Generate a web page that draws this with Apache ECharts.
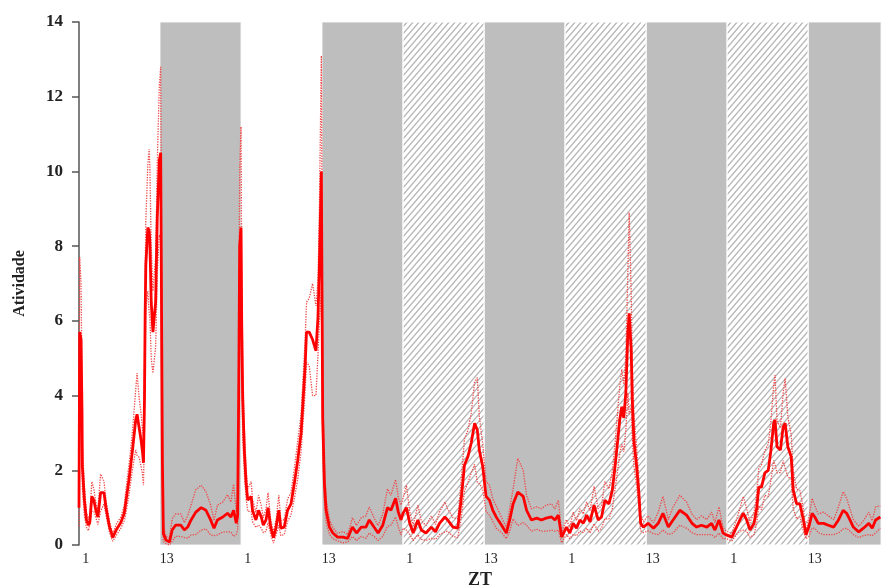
<!DOCTYPE html>
<html>
<head>
<meta charset="utf-8">
<script src="https://cdn.jsdelivr.net/npm/echarts@6/dist/echarts.min.js"></script>
<style>html,body{margin:0;padding:0;background:#fff}#chart{width:881px;height:585px}</style>
</head>
<body>
<div id="chart"></div>
<script>
// time (hours from ZT0 of day 1)
const horas = [0.0,0.1,0.3,0.45,0.5,0.8,1.1,1.4,1.6,1.9,2.2,2.5,2.8,3.2,3.7,4.0,4.5,5.0,5.2,5.5,6.2,6.7,6.9,7.4,7.9,8.4,8.6,8.9,9.2,9.4,9.55,9.7,9.8,9.9,10.2,10.4,10.5,10.7,10.95,11.35,11.6,11.9,12.1,12.35,12.5,
12.9,13.4,13.8,14.3,15.1,15.6,16.1,16.6,17.3,18.1,18.8,19.5,20.0,20.5,21.3,22.0,22.5,22.9,23.3,23.5,23.65,23.8,24.0,24.1,24.25,24.5,24.75,25.0,
25.5,25.7,26.2,26.6,27.0,27.3,27.7,28.0,28.4,28.8,29.2,29.6,29.9,30.4,30.9,31.4,31.9,32.4,32.9,33.2,33.5,33.7,34.1,34.6,35.1,35.4,35.6,35.9,36.1,36.35,36.6,37.1,
37.6,38.3,39.1,39.8,40.5,41.1,41.8,42.5,43.0,43.7,44.3,45.0,45.7,46.2,46.9,47.3,
47.7,48.0,48.5,49.0,49.5,50.2,50.7,51.4,52.2,52.8,53.4,54.2,54.6,55.4,56.1,56.6,57.1,57.6,58.1,58.6,59.0,59.3,59.8,
60.3,60.8,61.3,61.8,62.6,63.3,63.8,64.3,65.0,65.8,66.3,67.0,67.8,68.5,69.2,70.0,70.5,71.0,71.5,
72.2,72.7,73.2,73.7,74.2,74.7,75.2,75.7,76.3,76.9,77.4,77.9,78.5,79.0,79.4,79.8,80.1,80.4,80.7,81.0,81.3,81.5,81.8,81.95,82.2,82.6,82.9,83.2,
83.6,84.3,85.1,85.8,86.5,87.3,88.0,89.0,90.0,90.8,91.5,92.2,93.0,93.7,94.2,94.8,95.4,
95.9,96.7,97.4,97.9,98.4,98.9,99.4,100.0,100.4,100.7,101.1,101.6,102.1,102.5,102.9,103.1,103.4,103.9,104.3,104.6,105.0,105.5,105.8,106.3,106.8,107.3,107.7,
108.1,108.6,109.0,109.5,110.3,111.0,111.8,112.5,113.2,113.7,114.2,114.7,115.5,116.2,117.0,117.5,118.0,118.7];

// mean activity
const atividade = [1.0,5.7,5.5,3.5,2.1,1.2,0.67,0.53,0.6,1.3,1.2,0.93,0.75,1.4,1.4,1.0,0.5,0.2,0.17,0.4,0.6,0.85,1.1,1.74,2.5,3.35,3.5,3.15,2.8,2.5,2.2,3.9,6.2,7.5,8.5,8.4,8.1,6.5,5.7,6.5,8.8,10.3,10.5,2.3,0.3,
0.13,0.08,0.4,0.53,0.53,0.4,0.48,0.67,0.88,1.0,0.93,0.67,0.45,0.67,0.75,0.85,0.75,0.93,0.58,0.8,3.9,8.0,8.5,6.0,3.9,2.5,1.65,1.2,
1.3,0.93,0.67,0.93,0.75,0.53,0.67,1.0,0.48,0.2,0.48,0.93,0.45,0.48,0.93,1.1,1.65,2.27,3.0,3.9,4.8,5.7,5.7,5.5,5.2,6.1,7.4,10.0,3.4,1.65,0.93,0.48,
0.32,0.21,0.21,0.18,0.48,0.32,0.48,0.48,0.67,0.48,0.32,0.53,1.0,0.93,1.25,0.88,
0.67,0.85,1.0,0.58,0.32,0.67,0.4,0.32,0.48,0.35,0.58,0.75,0.67,0.48,0.45,1.2,2.14,2.36,2.73,3.26,3.08,2.54,2.1,
1.3,1.2,0.93,0.75,0.53,0.32,0.67,1.1,1.42,1.3,0.93,0.67,0.72,0.67,0.72,0.75,0.67,0.8,0.21,
0.48,0.32,0.58,0.45,0.67,0.58,0.8,0.62,1.07,0.67,0.75,1.2,1.1,1.47,2.1,2.8,3.35,3.7,3.4,4.07,5.67,6.2,5.2,3.9,2.8,2.1,1.47,0.58,
0.48,0.58,0.45,0.58,0.85,0.48,0.67,0.93,0.8,0.58,0.48,0.53,0.48,0.58,0.4,0.67,0.32,
0.27,0.21,0.48,0.67,0.85,0.67,0.4,0.58,1.0,1.55,1.55,1.93,2.0,2.54,3.26,3.35,2.63,2.54,3.16,3.26,2.63,2.36,1.47,1.1,1.1,0.67,0.27,
0.48,0.85,0.75,0.58,0.58,0.53,0.48,0.67,0.93,0.85,0.67,0.48,0.35,0.45,0.58,0.45,0.67,0.75];

// error (dotted bounds = mean ± erro)
const erro = [0.5,2.0,1.5,1.0,0.6,0.4,0.2,0.15,0.2,0.4,0.3,0.2,0.2,0.5,0.3,0.2,0.15,0.1,0.1,0.15,0.15,0.2,0.3,0.4,0.5,0.8,1.1,0.8,0.7,0.6,0.6,0.8,1.0,1.2,1.7,2.2,2.0,1.5,1.1,1.2,1.5,2.0,2.3,1.0,0.2,
0.1,0.1,0.3,0.3,0.3,0.2,0.3,0.4,0.6,0.6,0.5,0.4,0.2,0.4,0.4,0.5,0.4,0.7,0.3,0.4,0.8,2.0,2.7,1.5,1.0,0.6,0.4,0.3,
0.4,0.3,0.2,0.4,0.3,0.2,0.3,0.4,0.2,0.15,0.2,0.4,0.2,0.2,0.3,0.3,0.4,0.5,0.5,0.6,0.7,0.8,0.9,1.5,1.2,1.0,1.5,3.1,1.0,0.5,0.3,0.2,
0.15,0.1,0.15,0.1,0.25,0.2,0.25,0.3,0.35,0.25,0.2,0.3,0.5,0.4,0.5,0.4,
0.4,0.4,0.6,0.3,0.2,0.4,0.25,0.2,0.3,0.2,0.3,0.4,0.3,0.25,0.25,0.5,0.7,0.7,0.8,1.1,1.4,0.9,0.6,
0.4,0.4,0.3,0.3,0.2,0.15,0.3,0.4,0.9,0.7,0.4,0.3,0.3,0.3,0.35,0.35,0.3,0.4,0.15,
0.2,0.15,0.3,0.2,0.3,0.25,0.35,0.3,0.5,0.3,0.3,0.5,0.4,0.5,0.6,0.8,0.9,1.0,0.9,1.0,1.6,2.7,1.5,1.0,0.7,0.5,0.4,0.2,
0.15,0.2,0.15,0.3,0.45,0.2,0.35,0.4,0.35,0.25,0.2,0.25,0.2,0.3,0.2,0.35,0.15,
0.1,0.1,0.2,0.3,0.45,0.3,0.2,0.3,0.4,0.5,0.6,0.6,0.7,0.8,1.0,1.2,0.7,0.6,0.9,1.2,0.8,0.6,0.5,0.4,0.35,0.3,0.1,
0.25,0.4,0.3,0.25,0.3,0.25,0.2,0.35,0.5,0.4,0.3,0.2,0.15,0.2,0.3,0.2,0.35,0.3];

// x tick positions (hours) and their ZT labels
const xTicks = [1,13,25,37,49,61,73,85,97,109];
const xTickLabels = ['1','13','1','13','1','13','1','13','1','13'];

// dark phases (solid gray) and hatched phases
const escuro = [[12,24],[36,48],[60,72],[84,96],[108,118.8]];
const hachurado = [[48,60],[72,84],[96,108]];

const chart = echarts.init(document.getElementById('chart'), null, {renderer:'canvas'});

// hatch pattern
const W = 6, H = 7;
const pc = document.createElement('canvas');
pc.width = W; pc.height = H;
const g = pc.getContext('2d');
g.fillStyle = '#ffffff'; g.fillRect(0,0,W,H);
g.strokeStyle = '#b6b6b6'; g.lineWidth = 1.35;
g.beginPath();
[-W,0,W].forEach(o=>{ g.moveTo(o-1, H+H/W); g.lineTo(o+W+1, -H/W); });
g.stroke();

const meanData = horas.map((h,i)=>[h, atividade[i]]);
const upData = horas.map((h,i)=>[h, +(atividade[i]+erro[i]).toFixed(2)]);
const loData = horas.map((h,i)=>[h, +Math.max(0, atividade[i]-erro[i]).toFixed(2)]);

const areas = [];
escuro.forEach(a=>areas.push([{xAxis:a[0], itemStyle:{color:'#bebebe', borderColor:'#fff', borderWidth:0.8}},{xAxis:a[1]}]));
hachurado.forEach(a=>areas.push([{xAxis:a[0], itemStyle:{color:{image:pc, repeat:'repeat'}, borderColor:'#fff', borderWidth:1.2}},{xAxis:a[1]}]));

const serif = 'Liberation Serif, Times New Roman, serif';

chart.setOption({
  animation:false,
  backgroundColor:'#fff',
  grid:{left:79, right:0, top:22, bottom:40, outerBoundsMode:'none', containLabel:false},
  xAxis:{
    type:'value', min:0, max:118.8,
    name:'ZT', nameLocation:'middle', nameGap:24,
    nameTextStyle:{fontFamily:serif, fontWeight:'bold', fontSize:18, color:'#222'},
    axisLine:{show:false}, axisTick:{show:false}, splitLine:{show:false},
    axisLabel:{
      customValues:xTicks, margin:7,
      fontFamily:serif, fontSize:14, color:'#222',
      formatter:(v)=>{const i = xTicks.indexOf(v); return i>=0 ? xTickLabels[i] : '';}
    }
  },
  yAxis:{
    type:'value', min:0, max:14, interval:2,
    name:'Atividade', nameLocation:'middle', nameGap:51, nameRotate:90,
    nameTextStyle:{fontFamily:serif, fontWeight:'bold', fontSize:16, color:'#222'},
    axisLine:{show:true, lineStyle:{color:'#555', width:1.5}},
    axisTick:{show:true, length:7, lineStyle:{color:'#555', width:1.5}},
    splitLine:{show:false},
    axisLabel:{fontFamily:serif, fontWeight:'bold', fontSize:17, color:'#222', margin:16}
  },
  series:[
    {type:'line', data:[], z:1, silent:true,
     markArea:{silent:true, data:areas}},
    {type:'line', data:upData, z:3, symbol:'none', silent:true,
     lineStyle:{color:'#f04848', width:1.3, type:'dotted'}},
    {type:'line', data:loData, z:3, symbol:'none', silent:true,
     lineStyle:{color:'#f04848', width:1.3, type:'dotted'}},
    {type:'line', data:meanData, z:4, symbol:'none', silent:true,
     lineStyle:{color:'#ff0000', width:2.8}}
  ]
});
</script>
</body>
</html>
